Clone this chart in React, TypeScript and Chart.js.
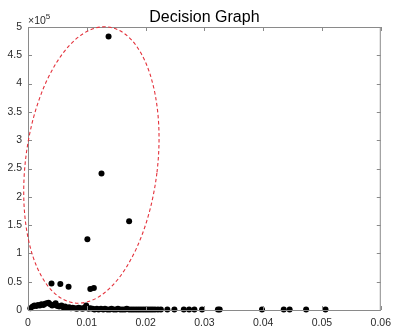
import React, { useEffect, useRef } from "react";
import { Chart, registerables } from "chart.js";

Chart.register(...registerables);

// Decision graph: rho (x) vs delta (y)
const rhoValues = [
  0.0137, 0.0125, 0.0172, 0.0101, 0.0040, 0.0055, 0.0069, 0.0106, 0.0112,
  0.0004, 0.0008, 0.0011, 0.0014, 0.0017, 0.0020, 0.0023, 0.0026, 0.0029, 0.0032,
  0.0035, 0.0038, 0.0041, 0.0044, 0.0047, 0.0050, 0.0053, 0.0057, 0.0060, 0.0063,
  0.0066, 0.0070, 0.0073, 0.0076, 0.0080, 0.0083, 0.0086, 0.0090, 0.0093, 0.0096,
  0.0099, 0.0103, 0.0106, 0.0110, 0.0113, 0.0117, 0.0120, 0.0124, 0.0128, 0.0131,
  0.0135, 0.0139, 0.0142, 0.0146, 0.0150, 0.0153, 0.0157, 0.0161, 0.0165, 0.0168,
  0.0172, 0.0176, 0.0180, 0.0184, 0.0188, 0.0192, 0.0196, 0.0200, 0.0204, 0.0208,
  0.0212, 0.0216, 0.0221, 0.0226, 0.0237, 0.0249, 0.0265, 0.0274, 0.0283, 0.0296,
  0.0323, 0.0326, 0.0398, 0.0435, 0.0445, 0.0473, 0.0506,
];
const deltaValues = [
  483000, 241000, 157000, 125000, 47000, 46000, 41000, 37000, 39000,
  3000, 6000, 8000, 7000, 9000, 8000, 10000, 9000, 11000, 12000,
  13000, 10000, 8000, 9000, 12000, 7000, 6000, 8000, 5000, 6000,
  4000, 5000, 3000, 4000, 3000, 2000, 4000, 3000, 2000, 4000,
  8000, 2000, 3000, 2000, 1000, 2000, 1000, 2000, 1000, 2000,
  1000, 1000, 2000, 1000, 1000, 2000, 1000, 1000, 1000, 2000,
  1000, 1000, 1000, 1000, 1000, 1000, 1000, 1000, 1000, 1000,
  1000, 1000, 1000, 1000, 1000, 1000, 1000, 1000, 1000, 1000,
  1000, 1000, 1000, 1000, 1000, 1000, 1000,
];

const xTickValues = [0, 0.01, 0.02, 0.03, 0.04, 0.05, 0.06];
const yTickValues = [0, 0.5, 1, 1.5, 2, 2.5, 3, 3.5, 4, 4.5, 5];
const yExponent = 5;
const titleText = "Decision Graph";

// highlighted cluster centres (ellipse centre in data units)
const ellipseCenterRho = 0.01078;
const ellipseCenterDelta = 256200;

const FONT = "'Liberation Sans', Arial, Helvetica, sans-serif";
const AXIS_COLOR = "#8a8a8a";
const LABEL_COLOR = "#2b2b2b";

const framePlugin = {
  id: "matlabFrame",
  afterDatasetsDraw(chart: any) {
    const { ctx, chartArea, scales } = chart;
    const { left, right, top, bottom } = chartArea;
    ctx.save();
    ctx.strokeStyle = AXIS_COLOR;
    ctx.lineWidth = 1;
    ctx.strokeRect(left + 0.5, top + 0.5, right - left - 1, bottom - top);
    const tl = 4;
    ctx.beginPath();
    xTickValues.forEach((v) => {
      const px = Math.round(scales.x.getPixelForValue(v)) + 0.5;
      ctx.moveTo(px, bottom);
      ctx.lineTo(px, bottom - tl);
      ctx.moveTo(px, top);
      ctx.lineTo(px, top + tl);
    });
    yTickValues.forEach((v) => {
      const py = Math.round(scales.y.getPixelForValue(v * Math.pow(10, yExponent))) + 0.5;
      ctx.moveTo(left, py);
      ctx.lineTo(left + tl, py);
      ctx.moveTo(right, py);
      ctx.lineTo(right - tl, py);
    });
    ctx.stroke();

    // title, centred over the plot area
    ctx.fillStyle = "#000000";
    ctx.textAlign = "center";
    ctx.textBaseline = "alphabetic";
    ctx.font = `16px ${FONT}`;
    ctx.fillText(titleText, (left + right) / 2, top - 5.5);

    // exponent label
    ctx.fillStyle = LABEL_COLOR;
    ctx.textAlign = "left";
    ctx.font = `10.5px ${FONT}`;
    ctx.fillText("\u00d710", left, top - 3);
    const w = ctx.measureText("\u00d710").width;
    ctx.font = `8px ${FONT}`;
    ctx.fillText(String(yExponent), left + w, top - 8);

    // red dashed ellipse
    const cx = scales.x.getPixelForValue(ellipseCenterRho);
    const cy = scales.y.getPixelForValue(ellipseCenterDelta);
    ctx.beginPath();
    ctx.strokeStyle = "#e4323c";
    ctx.setLineDash([3.5, 2.5]);
    ctx.lineWidth = 1.1;
    ctx.ellipse(cx, cy, 66, 139, (7 * Math.PI) / 180, 0, Math.PI * 2);
    ctx.stroke();
    ctx.restore();
  },
};

export default function App() {
  const canvasRef = useRef<HTMLCanvasElement | null>(null);

  useEffect(() => {
    document.body.style.margin = "0";
    const canvas = canvasRef.current;
    if (!canvas) return;
    const points = rhoValues.map((x, i) => ({ x, y: deltaValues[i] }));
    const chart = new Chart(canvas, {
      type: "scatter",
      data: {
        datasets: [
          {
            data: points,
            backgroundColor: "#000000",
            borderColor: "#000000",
            pointRadius: 3,
            pointHoverRadius: 3,
            borderWidth: 0,
            clip: false as any,
          },
        ],
      },
      options: {
        animation: false,
        responsive: false,
        maintainAspectRatio: false,
        layout: { padding: { right: 11, left: 0, top: 27, bottom: 0 } },
        plugins: {
          legend: { display: false },
          tooltip: { enabled: false },
          title: { display: false },
        },
        scales: {
          x: {
            type: "linear",
            min: 0,
            max: 0.06,
            afterBuildTicks: (s: any) => {
              s.ticks = xTickValues.map((v) => ({ value: v }));
            },
            afterFit: (s: any) => {
              s.height = 19;
            },
            grid: { display: false, drawTicks: false },
            border: { display: false },
            ticks: {
              padding: 7,
              color: LABEL_COLOR,
              font: { family: FONT, size: 10.5 },
              maxRotation: 0,
              autoSkip: false,
              callback: (v: any) => String(Number(Number(v).toFixed(3))),
            },
          },
          y: {
            type: "linear",
            min: 0,
            max: 5 * Math.pow(10, yExponent),
            afterBuildTicks: (s: any) => {
              s.ticks = yTickValues.map((v) => ({ value: v * Math.pow(10, yExponent) }));
            },
            afterFit: (s: any) => {
              s.width = 28;
            },
            grid: { display: false, drawTicks: false },
            border: { display: false },
            ticks: {
              padding: 6,
              color: LABEL_COLOR,
              font: { family: FONT, size: 10.5 },
              autoSkip: false,
              callback: (v: any) => String(Number((Number(v) / Math.pow(10, yExponent)).toFixed(2))),
            },
          },
        },
      },
      plugins: [framePlugin],
    });
    return () => chart.destroy();
  }, []);

  return (
    <div style={{ position: "absolute", left: 0, top: 0, width: 398, height: 329, background: "#ffffff" }}>
      <canvas ref={canvasRef} width={398} height={329} style={{ display: "block" }} />
    </div>
  );
}
